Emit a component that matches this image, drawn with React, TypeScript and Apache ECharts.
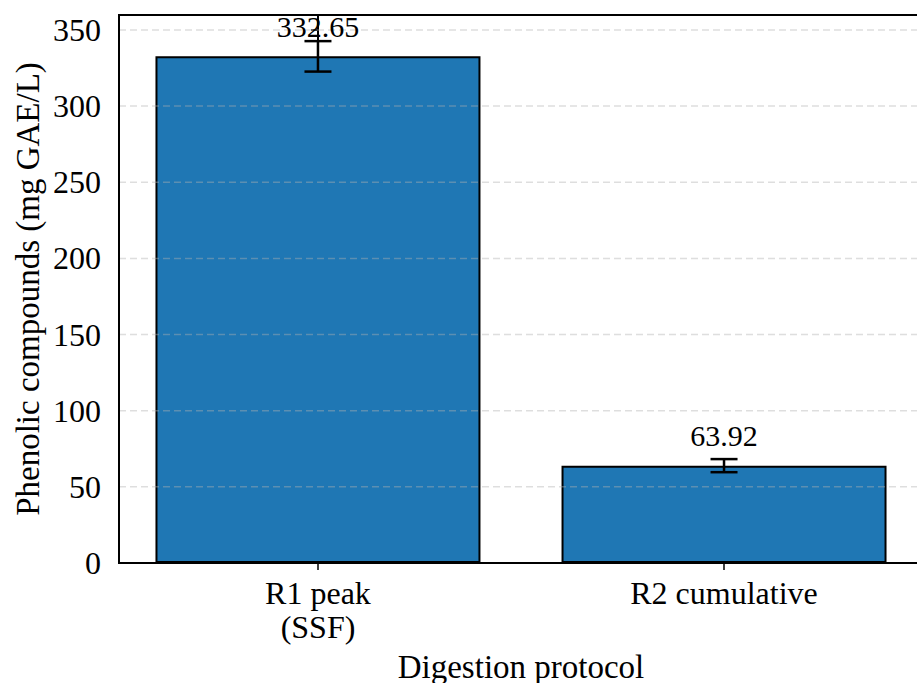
import React, { useEffect, useRef } from "react";
import * as echarts from "echarts";

const categories = ["R1 peak\n(SSF)", "R2 cumulative"];
const values = [332.65, 63.92];
const errors = [10, 4.3];
const yTicks = [0, 50, 100, 150, 200, 250, 300, 350];
const gridValues = [50, 100, 150, 200, 250, 300, 350];

const FONT = "'Liberation Serif', 'Times New Roman', serif";

export default function App() {
  const ref = useRef<HTMLDivElement>(null);
  useEffect(() => {
    if (!ref.current) return;
    const chart = echarts.init(ref.current, null, { renderer: "svg" });
    const xIdx = categories.map((_, i) => i);
    chart.setOption({
      animation: false,
      backgroundColor: "#fff",
      grid: {
        left: 119,
        top: 15,
        width: 804,
        bottom: 120,
        outerBoundsMode: "none",
        containLabel: false,
        show: true,
        borderColor: "#000",
        borderWidth: 2,
        backgroundColor: "transparent",
        z: 10,
      },
      xAxis: {
        type: "value",
        min: -0.49,
        max: 1.49,
        splitLine: { show: false },
        axisLine: { show: true, onZero: false, lineStyle: { color: "#000", width: 2 } },
        axisTick: {
          show: true,
          customValues: xIdx,
          length: 7,
          lineStyle: { color: "#000", width: 1.5 },
        },
        axisLabel: {
          customValues: xIdx,
          formatter: (v: number) => categories[Math.round(v)] ?? "",
          color: "#000",
          fontFamily: FONT,
          fontSize: 32,
          lineHeight: 34,
          margin: 13,
          verticalAlign: "top",
        },
      },
      yAxis: {
        type: "value",
        min: 0,
        max: 359.8,
        splitLine: { show: false },
        axisLine: { show: true, lineStyle: { color: "#000", width: 2 } },
        axisTick: {
          show: true,
          customValues: yTicks,
          length: 7,
          lineStyle: { color: "#000", width: 1.5 },
        },
        axisLabel: {
          customValues: yTicks,
          color: "#000",
          fontFamily: FONT,
          fontSize: 32,
          margin: 18,
        },
      },
      graphic: [
        {
          type: "text",
          x: 28,
          y: 289,
          rotation: Math.PI / 2,
          style: {
            text: "Phenolic compounds (mg GAE/L)",
            fontFamily: FONT,
            fontSize: 33,
            fill: "#000",
            textAlign: "center",
            textVerticalAlign: "middle",
          },
        },
        {
          type: "text",
          x: 521,
          y: 667,
          style: {
            text: "Digestion protocol",
            fontFamily: FONT,
            fontSize: 33,
            fill: "#000",
            textAlign: "center",
            textVerticalAlign: "middle",
          },
        },
      ],
      series: [
        {
          type: "bar",
          data: values.map((v, i) => [i, v]),
          barWidth: 325,
          itemStyle: { color: "#1f77b4", borderColor: "#000", borderWidth: 2 },
          z: 2,
        },
        {
          type: "custom",
          data: gridValues.map((g) => [g]),
          renderItem: (params: any, api: any) => {
            const y = api.value(0);
            const p1 = api.coord([-0.49, y]);
            const p2 = api.coord([1.49, y]);
            return {
              type: "line",
              shape: { x1: p1[0], y1: p1[1], x2: p2[0], y2: p2[1] },
              style: {
                stroke: "rgba(176,176,176,0.42)",
                lineWidth: 1.5,
                lineDash: [7, 4],
              },
            };
          },
          z: 3,
          silent: true,
        },
        {
          type: "custom",
          data: values.map((v, i) => [i, v, errors[i]]),
          renderItem: (params: any, api: any) => {
            const x = api.value(0);
            const v = api.value(1);
            const e = api.value(2);
            const top = api.coord([x, v + e]);
            const bot = api.coord([x, v - e]);
            const lab = api.coord([x, v + 9.7]);
            const cw = 13.5;
            const st = { stroke: "#000", lineWidth: 2.5 };
            return {
              type: "group",
              children: [
                { type: "line", shape: { x1: top[0], y1: top[1], x2: bot[0], y2: bot[1] }, style: st },
                { type: "line", shape: { x1: top[0] - cw, y1: top[1], x2: top[0] + cw, y2: top[1] }, style: st },
                { type: "line", shape: { x1: bot[0] - cw, y1: bot[1], x2: bot[0] + cw, y2: bot[1] }, style: st },
                {
                  type: "text",
                  x: lab[0],
                  y: lab[1],
                  style: {
                    text: v.toFixed(2),
                    fontFamily: FONT,
                    fontSize: 30,
                    fill: "#000",
                    textAlign: "center",
                    textVerticalAlign: "bottom",
                  },
                },
              ],
            };
          },
          z: 5,
          silent: true,
        },
      ],
    });
    return () => chart.dispose();
  }, []);
  return (
    <div
      ref={ref}
      style={{ position: "absolute", left: 0, top: 0, width: 917, height: 683 }}
    />
  );
}
